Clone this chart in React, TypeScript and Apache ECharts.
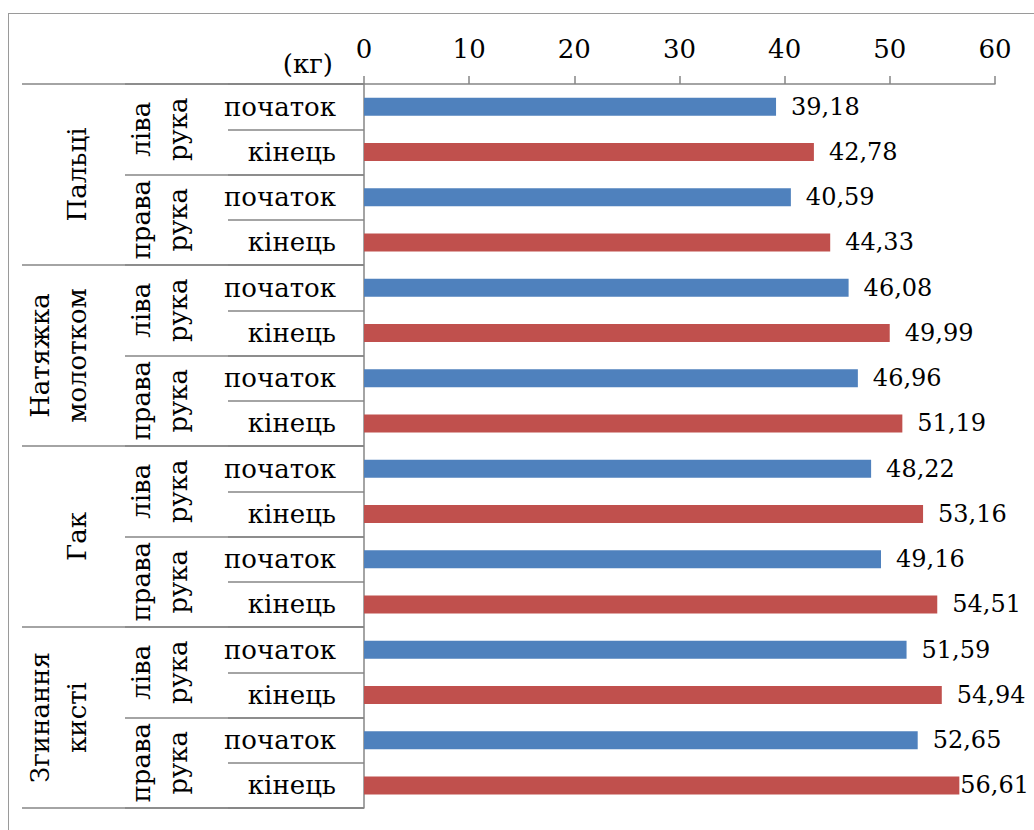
import React, { useEffect, useRef } from "react";
import * as echarts from "echarts";

// Exercise groups, hands and measurement phases (three-level category axis)
const groups = ["Пальці", "Натяжка\nмолотком", "Гак", "Згинання\nкисті"];
const hands = ["ліва\nрука", "права\nрука"];
const phases = ["початок", "кінець"];

// Strength, kg — in order group → hand → phase
const values = [
  39.18, 42.78, 40.59, 44.33,
  46.08, 49.99, 46.96, 51.19,
  48.22, 53.16, 49.16, 54.51,
  51.59, 54.94, 52.65, 56.61,
];

const unitLabel = "(кг)";
const axisMin = 0;
const axisMax = 60;
const axisStep = 10;

const phaseColors = ["#4F81BD", "#C0504D"];

const FONT = "DejaVu Serif";
const GRAY = "#868686";

export default function App() {
  const ref = useRef<HTMLDivElement>(null);

  useEffect(() => {
    if (!ref.current) return;
    const chart = echarts.init(ref.current, null, { renderer: "svg" });

    const phaseCats: string[] = [];
    const handCats: string[] = [];
    const phaseIdx: number[] = [];
    groups.forEach(() => {
      hands.forEach((h) => {
        handCats.push(h);
        phases.forEach((p, pi) => {
          phaseCats.push(p);
          phaseIdx.push(pi);
        });
      });
    });

    const barData = values.map((v, i) => ({
      value: v,
      itemStyle: { color: phaseColors[phaseIdx[i]] },
    }));

    const W = 1034;

    chart.setOption({
      animation: false,
      grid: { left: 364, top: 84, width: 631, height: 724 },
      xAxis: {
        type: "value",
        position: "top",
        min: axisMin,
        max: axisMax,
        interval: axisStep,
        name: unitLabel,
        nameLocation: "start",
        nameGap: 31,
        nameMoveOverlap: false,
        nameTextStyle: {
          fontFamily: FONT,
          fontSize: 26,
          color: "#000",
          align: "right",
          verticalAlign: "bottom",
          lineHeight: 40,
        },
        axisLine: { show: true, lineStyle: { color: GRAY, width: 1.5 } },
        axisTick: { show: true, length: 8, lineStyle: { color: GRAY, width: 1.5 } },
        axisLabel: { fontFamily: FONT, fontSize: 26, color: "#000", margin: 22 },
        splitLine: { show: false },
      },
      yAxis: [
        {
          type: "category",
          data: phaseCats,
          inverse: true,
          position: "left",
          offset: 0,
          axisLine: { show: true, lineStyle: { color: GRAY, width: 1.5 } },
          axisTick: { show: true, length: 136, lineStyle: { color: GRAY, width: 1.5 } },
          axisLabel: { interval: 0, fontFamily: FONT, fontSize: 26, color: "#000", margin: 28 },
        },
        {
          type: "category",
          data: handCats,
          inverse: true,
          position: "left",
          offset: 0,
          axisLine: { show: false },
          axisTick: { show: true, length: 239, lineStyle: { color: GRAY, width: 1.5 } },
          axisLabel: {
            interval: 0,
            rotate: 90,
            fontFamily: FONT,
            fontSize: 26,
            lineHeight: 37,
            color: "#000",
            margin: 168,
          },
        },
        {
          type: "category",
          data: groups,
          inverse: true,
          position: "left",
          offset: 0,
          axisLine: { show: false },
          axisTick: { show: true, length: 342, lineStyle: { color: GRAY, width: 1.5 } },
          axisLabel: {
            interval: 0,
            rotate: 90,
            fontFamily: FONT,
            fontSize: 26,
            lineHeight: 37,
            color: "#000",
            margin: 269,
          },
        },
      ],
      series: [
        {
          type: "bar",
          yAxisIndex: 0,
          barWidth: 18,
          data: barData,
          label: {
            show: true,
            position: "right",
            distance: 15,
            fontFamily: FONT,
            fontSize: 24,
            color: "#000",
            formatter: (p: any) => Number(p.value).toFixed(2).replace(".", ","),
          },
          // keep value labels inside the chart's right edge
          labelLayout: (p: any) => {
            const r = p.labelRect;
            const maxRight = W - 5;
            if (r.x + r.width > maxRight) {
              return {
                x: maxRight - r.width,
                y: r.y + r.height / 2,
                align: "left",
                verticalAlign: "middle",
              };
            }
            return {};
          },
        },
      ],
    });

    return () => chart.dispose();
  }, []);

  return (
    <div style={{ position: "fixed", left: 0, top: 0, width: 1034, height: 830, background: "#fff" }}>
      {/* outer frame of the chart area */}
      <div
        style={{
          position: "absolute",
          left: 8,
          top: 13,
          right: -2,
          bottom: -2,
          borderTop: "1px solid #9a9a9a",
          borderLeft: "1px solid #9a9a9a",
        }}
      />
      <div ref={ref} style={{ position: "absolute", left: 0, top: 0, width: 1034, height: 830 }} />
    </div>
  );
}
